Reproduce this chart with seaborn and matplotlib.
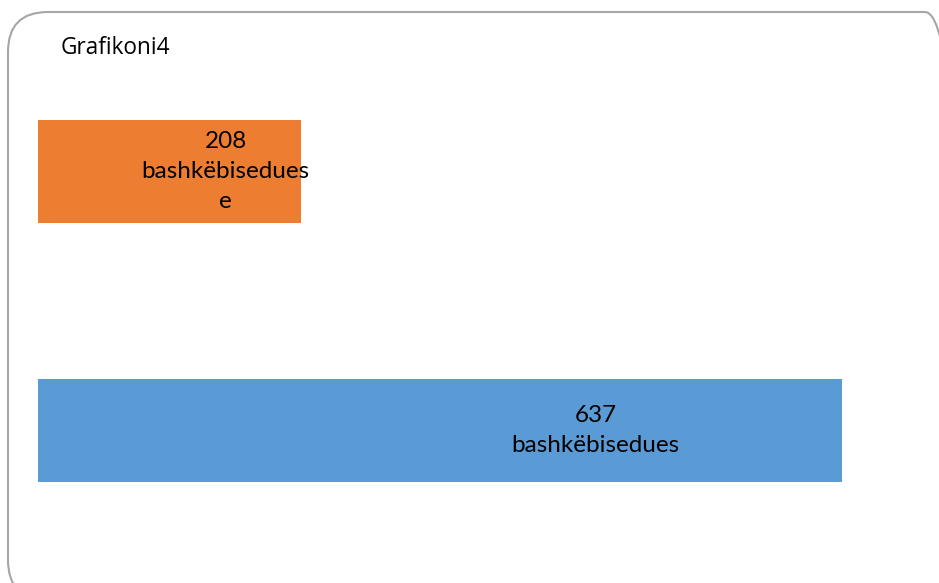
import matplotlib
matplotlib.use("Agg")
import matplotlib.pyplot as plt
from matplotlib.patches import FancyBboxPatch
import seaborn as sns
import pandas as pd

# ---- data ----
categories = ["A", "B"]
values = [208, 637]
labels = ["208\nbashkëbisedues\ne", "637\nbashkëbisedues"]
colors = ["#ED7D31", "#5B9BD5"]
label_frac = [0.715, 0.693]
title = "Grafikoni4"

df = pd.DataFrame({"cat": categories, "val": values})

sns.set_theme(style="white")
plt.rcParams["font.family"] = ["Lato", "DejaVu Sans"]

W, H = 939, 583
fig = plt.figure(figsize=(W / 100, H / 100), dpi=100)
fig.patch.set_facecolor("white")

# axes: left at x=38px, top at 42px, bottom at 560px
ax = fig.add_axes([38 / W, (H - 560) / H, 884 / W, (560 - 42) / H])
sns.barplot(data=df, x="val", y="cat", hue="cat", palette=colors,
            orient="h", width=0.398, legend=False, ax=ax, saturation=1,
            linewidth=0)
ax.set_xlim(0, 700)
ax.set_ylim(1.5, -0.5)
ax.axis("off")

for i, (v, lab, f) in enumerate(zip(values, labels, label_frac)):
    ax.text(v * f, i, lab, ha="center", va="center", fontsize=17.5,
            color="black", linespacing=1.55, clip_on=False)

fig.text(61 / W, 1 - 48 / H, title, ha="left", va="center", fontsize=16.3,
         family=["Open Sans", "DejaVu Sans"], color="black")

box = FancyBboxPatch((8, -17), 965 - 8, (H - 12) + 17, boxstyle="round,pad=0,rounding_size=40",
                     transform=None, facecolor="none", edgecolor="#A6A6A6", linewidth=1.5)
fig.patches.append(box)

fig.savefig("out.png", dpi=100, facecolor="white")
